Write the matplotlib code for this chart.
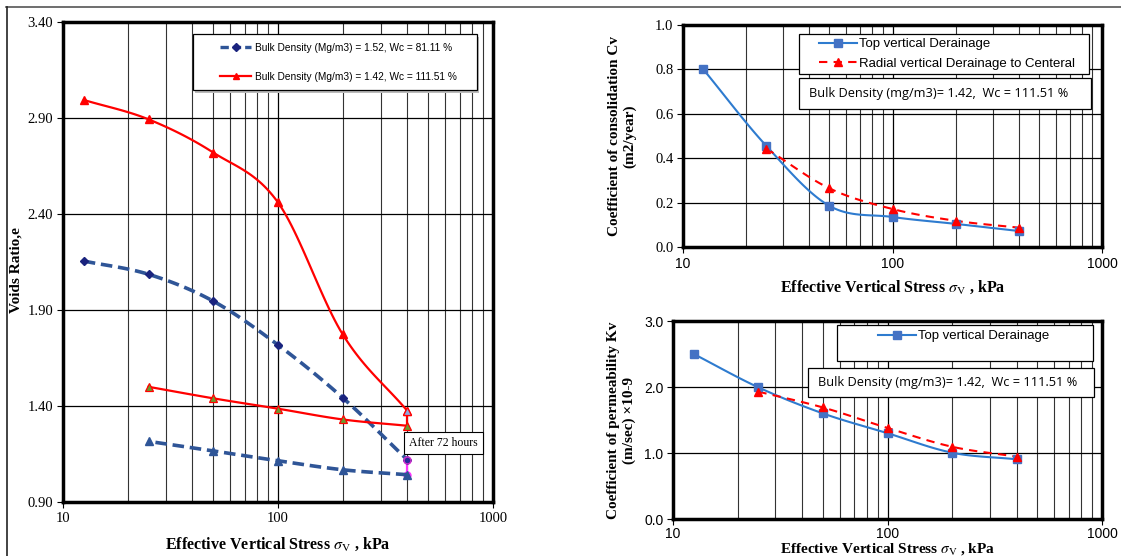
import numpy as np
import matplotlib
matplotlib.use("Agg")
import matplotlib.pyplot as plt
from matplotlib.lines import Line2D
from matplotlib.patches import Rectangle
from matplotlib.ticker import FixedLocator, FuncFormatter, NullFormatter, LogLocator

plt.rcParams["mathtext.fontset"] = "stix"

# ---- data: void ratio vs effective stress ----
stress = [12.5, 25, 50, 100, 200, 400]
e_blue_load = [2.155, 2.086, 1.946, 1.718, 1.443, 1.119]
e_red_load = [2.994, 2.893, 2.720, 2.460, 1.773, 1.374]
stress_unload = [400, 200, 100, 50, 25]
e_blue_unload = [1.042, 1.068, 1.115, 1.166, 1.216]
e_red_unload = [1.297, 1.330, 1.386, 1.440, 1.500]

# ---- data: coefficient of consolidation ----
cv_top = [0.800, 0.455, 0.185, 0.135, 0.104, 0.072]
stress_radial = [25, 50, 100, 200, 400]
cv_radial = [0.443, 0.264, 0.171, 0.118, 0.087]

# ---- data: coefficient of permeability ----
kv_top = [2.50, 1.995, 1.60, 1.30, 1.005, 0.905]
kv_radial = [1.93, 1.69, 1.38, 1.095, 0.945]

label_blue = "Bulk Density (Mg/m3) = 1.52, Wc = 81.11 %"
label_red = "Bulk Density (Mg/m3) = 1.42, Wc = 111.51 %"
note_text = "Bulk Density (mg/m3)= 1.42,  Wc = 111.51 %"


def smooth(x, y, n=24):
    """Catmull-Rom curve through the points in log-x space (like Excel smoothed lines)."""
    lx = np.log10(np.asarray(x, float))
    y = np.asarray(y, float)
    if len(lx) < 3:
        return np.asarray(x, float), y
    P = np.column_stack([lx, y])
    P = np.vstack([2 * P[0] - P[1], P, 2 * P[-1] - P[-2]])
    out = []
    for i in range(1, len(P) - 2):
        p0, p1, p2, p3 = P[i - 1], P[i], P[i + 1], P[i + 2]
        t = np.linspace(0, 1, n, endpoint=False)[:, None]
        c = 0.5 * ((2 * p1) + (-p0 + p2) * t + (2 * p0 - 5 * p1 + 4 * p2 - p3) * t ** 2
                   + (-p0 + 3 * p1 - 3 * p2 + p3) * t ** 3)
        out.append(c)
    out.append(P[-2][None, :])
    c = np.vstack(out)
    return 10 ** c[:, 0], c[:, 1]


serif = "Liberation Serif"
sans = "Liberation Sans"


def style_log_axis(ax, xfont, yfont):
    ax.set_xscale("log")
    ax.set_xlim(10, 1000)
    ax.xaxis.set_major_locator(FixedLocator([10, 100, 1000]))
    ax.xaxis.set_major_formatter(FuncFormatter(lambda v, p: "%d" % v))
    ax.xaxis.set_minor_locator(LogLocator(base=10, subs=np.arange(2, 10)))
    ax.xaxis.set_minor_formatter(NullFormatter())
    ax.grid(True, which="major", axis="both", color="black", lw=0.9)
    ax.grid(True, which="minor", axis="x", color="#333333", lw=0.8)
    ax.tick_params(which="minor", length=0)
    ax.tick_params(which="major", length=4, width=0.8, direction="out", pad=3, labelsize=10.5)
    ax.tick_params(axis="x", labelfontfamily=xfont)
    ax.tick_params(axis="y", labelfontfamily=yfont)
    for s in ax.spines.values():
        s.set_linewidth(2.5)
        s.set_color("black")
    ax.set_axisbelow(True)


def box(ax, x0, y0, x1, y1):
    ax.add_patch(Rectangle((x0, y0), x1 - x0, y1 - y0, transform=ax.transAxes, fc="white",
                           ec="black", lw=0.9, zorder=5, clip_on=False))


xlabel = r"Effective Vertical Stress $\sigma_{\mathrm{V}}$ , kPa"

fig = plt.figure(figsize=(11.21, 5.56), dpi=100)

# ---------------- left panel ----------------
ax1 = fig.add_axes([0.0562, 0.0971, 0.3836, 0.8633])
blue_dash = "#2F5597"
dash = (0, (3.2, 1.6))
xs, ys = smooth(stress, e_blue_load)
ax1.plot(xs, ys, color=blue_dash, lw=2.6, ls=dash, zorder=3)
ax1.plot(stress, e_blue_load, ls="none", marker="D", ms=4.5, color="#1A237E", zorder=4)
xs, ys = smooth(stress, e_red_load)
ax1.plot(xs, ys, color="#FF0000", lw=1.6, zorder=3)
ax1.plot(stress, e_red_load, ls="none", marker="^", ms=5.5, color="#FF0000", zorder=4)
# unloading branches
ax1.plot([stress[-1], stress_unload[0]], [e_red_load[-1], e_red_unload[0]], color="#FF0000", lw=1.6, zorder=3)
xs, ys = smooth(stress_unload, e_red_unload)
ax1.plot(xs, ys, color="#FF0000", lw=1.6, zorder=3)
ax1.plot(stress_unload, e_red_unload, ls="none", marker="^", ms=6, mfc="#6B9A2E", mec="#FF0000",
         mew=0.9, zorder=4)
ax1.plot([stress[-1]], [e_red_load[-1]], ls="none", marker="^", ms=6, mfc="#8FA8E0", mec="#FF0000",
         mew=0.9, zorder=5)
ax1.plot([stress[-1], stress_unload[0]], [e_blue_load[-1], e_blue_unload[0]], color="#FF33FF", lw=1.6,
         marker="o", ms=5, mfc="#FF33FF", mec="#FF33FF", zorder=3)
xs, ys = smooth(stress_unload, e_blue_unload)
ax1.plot(xs, ys, color=blue_dash, lw=2.6, ls=dash, zorder=3)
ax1.plot(stress_unload, e_blue_unload, ls="none", marker="^", ms=6, color="#2F5597", zorder=4)
ax1.plot([stress[-1]], [e_blue_load[-1]], ls="none", marker="o", ms=5, mfc="#2A2A9A", mec="#CC33CC",
         mew=1, zorder=5)

ax1.set_ylim(0.90, 3.40)
ax1.yaxis.set_major_locator(FixedLocator([0.90, 1.40, 1.90, 2.40, 2.90, 3.40]))
ax1.yaxis.set_major_formatter(FuncFormatter(lambda v, p: "%.2f" % v))
style_log_axis(ax1, serif, serif)
ax1.set_ylabel("Voids Ratio,e", fontfamily=serif, fontweight="bold", fontsize=11)
ax1.yaxis.set_label_coords(-0.093, 0.483)
ax1.set_xlabel(xlabel, fontfamily=serif, fontweight="bold", fontsize=11.5, labelpad=8)

ax1.add_patch(Rectangle((0.307, 0.852), 0.660, 0.117, transform=ax1.transAxes, fc="#BBBBBB",
                        ec="none", zorder=5))
box(ax1, 0.302, 0.858, 0.962, 0.975)
h_blue = Line2D([], [], color=blue_dash, lw=2.4, ls=(0, (2.5, 1.2)), marker="D", ms=4, mfc="#1A237E",
                mec="#1A237E")
h_red = Line2D([], [], color="#FF0000", lw=1.6, marker="^", ms=4.5)
leg1 = ax1.legend([h_blue, h_red], [label_blue, label_red], loc="center left",
                  bbox_to_anchor=(0.365, 0.916), prop={"family": sans, "size": 7.3},
                  frameon=False, labelspacing=1.85, handlelength=3.1, borderpad=0,
                  handletextpad=0.35, borderaxespad=0)
leg1.set_zorder(6)
ax1.text(407, 1.207, "After 72 hours", fontfamily=serif, fontsize=8.5, va="center", ha="left",
         bbox=dict(boxstyle="square,pad=0.45", fc="white", ec="black", lw=0.8), zorder=6)

# ---------------- right top: Cv ----------------
ax2 = fig.add_axes([0.6093, 0.5558, 0.3738, 0.3993])
blue_line = "#2E7BCF"
sq = "#4472C4"
xs, ys = smooth(stress, cv_top)
ax2.plot(xs, ys, color=blue_line, lw=1.5, zorder=3)
ax2.plot(stress, cv_top, ls="none", marker="s", ms=5.5, color=sq, zorder=4)
xs, ys = smooth(stress_radial, cv_radial)
ax2.plot(xs, ys, color="#FF0000", lw=1.5, ls=(0, (4, 3)), zorder=3)
ax2.plot(stress_radial, cv_radial, ls="none", marker="^", ms=5.5, color="#FF0000", zorder=4)
ax2.set_ylim(0, 1.0)
ax2.yaxis.set_major_locator(FixedLocator([0, 0.2, 0.4, 0.6, 0.8, 1.0]))
ax2.yaxis.set_major_formatter(FuncFormatter(lambda v, p: "%.1f" % v))
style_log_axis(ax2, sans, serif)
ax2.tick_params(axis="x", labelsize=10)
ax2.set_ylabel("Coefficient of consolidation Cv\n(m2/year)", fontfamily=serif, fontweight="bold",
               fontsize=11, labelpad=13, linespacing=1.2)
ax2.set_xlabel(xlabel, fontfamily=serif, fontweight="bold", fontsize=11.5, labelpad=6)

box(ax2, 0.277, 0.779, 0.969, 0.959)
h_top = Line2D([], [], color=blue_line, lw=1.5, marker="s", ms=5.5, mfc=sq, mec=sq)
h_rad = Line2D([], [], color="#FF0000", lw=1.5, ls=(0, (4, 3)), marker="^", ms=5.5)
leg2 = ax2.legend([h_top, h_rad], ["Top vertical Derainage", "Radial vertical Derainage to Centeral"],
                  loc="center left", bbox_to_anchor=(0.325, 0.869), prop={"family": sans, "size": 9.5},
                  frameon=False, labelspacing=0.55, handlelength=2.9, borderpad=0,
                  handletextpad=0.1, borderaxespad=0)
leg2.set_zorder(6)
box(ax2, 0.277, 0.622, 0.974, 0.761)
ax2.text(0.301, 0.692, note_text, transform=ax2.transAxes, fontfamily="Open Sans", fontsize=9.2,
         va="center", ha="left", zorder=6)

# ---------------- right bottom: Kv ----------------
ax3 = fig.add_axes([0.6004, 0.0665, 0.3827, 0.3561])
xs, ys = smooth(stress, kv_top)
ax3.plot(xs, ys, color=blue_line, lw=1.5, zorder=3)
ax3.plot(stress, kv_top, ls="none", marker="s", ms=5.5, color=sq, zorder=4)
xs, ys = smooth(stress_radial, kv_radial)
ax3.plot(xs, ys, color="#FF0000", lw=1.5, ls=(0, (4, 3)), zorder=3)
ax3.plot(stress_radial, kv_radial, ls="none", marker="^", ms=5.5, color="#FF0000", zorder=4)
ax3.set_ylim(0, 3.0)
ax3.yaxis.set_major_locator(FixedLocator([0, 1.0, 2.0, 3.0]))
ax3.yaxis.set_major_formatter(FuncFormatter(lambda v, p: "%.1f" % v))
style_log_axis(ax3, sans, sans)
ax3.tick_params(axis="both", labelsize=10)
ax3.tick_params(axis="x", pad=2)
ax3.set_ylabel("Coefficient of permeability Kv\n(m/sec) \u00d710-9", fontfamily=serif,
               fontweight="bold", fontsize=11, labelpad=6, linespacing=1.2)
ax3.set_xlabel(xlabel, fontfamily=serif, fontweight="bold", fontsize=11, labelpad=0)

box(ax3, 0.382, 0.798, 0.979, 0.980)
leg3 = ax3.legend([h_top], ["Top vertical Derainage"], loc="center left",
                  bbox_to_anchor=(0.478, 0.924), prop={"family": sans, "size": 9.5},
                  frameon=False, handlelength=2.9, borderpad=0, handletextpad=0.1,
                  borderaxespad=0)
leg3.set_zorder(6)
box(ax3, 0.315, 0.616, 0.982, 0.763)
ax3.text(0.338, 0.689, note_text, transform=ax3.transAxes, fontfamily="Open Sans", fontsize=9.2,
         va="center", ha="left", zorder=6)

# outer frame lines
fig.add_artist(Line2D([6 / 1121, 1], [1 - 7 / 556, 1 - 7 / 556], transform=fig.transFigure,
                      color="#555555", lw=1.2))
fig.add_artist(Line2D([7 / 1121, 7 / 1121], [0, 1 - 7 / 556], transform=fig.transFigure,
                      color="#222222", lw=1.2))

fig.savefig("out.png", dpi=100)
